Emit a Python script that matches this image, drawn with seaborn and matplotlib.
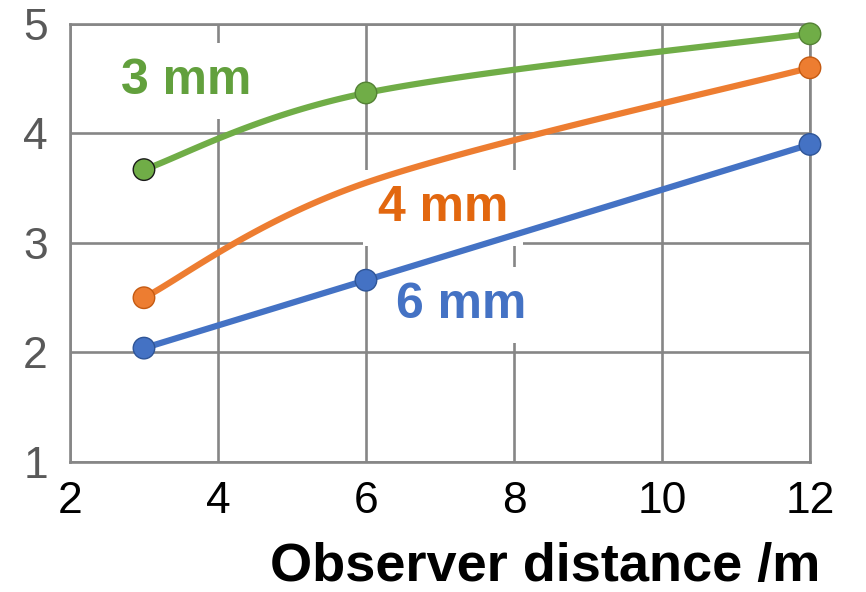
import matplotlib
matplotlib.use("Agg")
import matplotlib.pyplot as plt
import seaborn as sns
import numpy as np
import pandas as pd

# data
distance = [3, 6, 12]
vals_3mm = [3.67, 4.37, 4.91]
vals_4mm = [2.50, 3.55, 4.60]
vals_6mm = [2.04, 2.66, 3.90]
show_marker_4mm = [True, False, True]

x_ticks = [2, 4, 6, 8, 10, 12]
y_ticks = [1, 2, 3, 4, 5]

series_names = ["3 mm", "4 mm", "6 mm"]
line_colors = ["#70AD47", "#ED7D31", "#4472C4"]
edge_colors = [["#1a1a1a", "#548235", "#548235"],
               ["#C55A11", "#C55A11", "#C55A11"],
               ["#2F5597", "#2F5597", "#2F5597"]]
label_colors = ["#62A03D", "#E2670F", "#4472C4"]
label_pos = [(3.57, 4.48), (7.04, 3.32), (7.28, 2.43)]


def excel_smooth(xs, ys, n=60):
    # bezier smoothing like spreadsheet "smoothed line"
    p = np.column_stack([xs, ys]).astype(float)
    pts = np.vstack([p[0], p, p[-1]])
    out = []
    t = np.linspace(0, 1, n)[:, None]
    for i in range(1, len(pts) - 2):
        p0, p1 = pts[i], pts[i + 1]
        c1 = p0 + (pts[i + 1] - pts[i - 1]) / 6
        c2 = p1 - (pts[i + 2] - pts[i]) / 6
        seg = ((1 - t) ** 3) * p0 + 3 * ((1 - t) ** 2) * t * c1 + 3 * (1 - t) * t ** 2 * c2 + t ** 3 * p1
        out.append(seg if i == 1 else seg[1:])
    out = np.vstack(out)
    return out[:, 0], out[:, 1]


sns.set_theme(style="white")
plt.rcParams["font.family"] = ["Liberation Sans", "DejaVu Sans"]

fig = plt.figure(figsize=(8.66, 5.92), dpi=100)
ax = fig.add_axes([0.0808, 0.2196, 0.8545, 0.7399])

grid_col = "#868686"
for v in x_ticks:
    ax.axvline(v, color=grid_col, lw=1.9, zorder=0.5)
for v in y_ticks:
    ax.axhline(v, color=grid_col, lw=1.9, zorder=0.5)

all_vals = [vals_3mm, vals_4mm, vals_6mm]
markers = [[True] * 3, show_marker_4mm, [True] * 3]
for vals, lc, ec, mk in zip(all_vals, line_colors, edge_colors, markers):
    sx, sy = excel_smooth(distance, vals)
    ax.plot(sx, sy, color=lc, lw=4.5, solid_capstyle="round", zorder=3,
            clip_on=False)
    df = pd.DataFrame({"x": distance, "y": vals, "m": mk, "ec": ec})
    df = df[df["m"]]
    sns.scatterplot(data=df, x="x", y="y", ax=ax, s=240, color=lc,
                    edgecolor=list(df["ec"]), linewidth=1.0, zorder=4,
                    legend=False, clip_on=False)

for name, col, (tx, ty) in zip(series_names, label_colors, label_pos):
    ax.text(tx, ty, name, color=col, fontsize=36, fontweight="bold",
            ha="center", va="center", zorder=2,
            bbox=dict(boxstyle="square,pad=0.3", fc="white", ec="none"))

ax.set_xlim(2, 12)
ax.set_ylim(1, 5)
ax.set_xticks(x_ticks)
ax.set_yticks(y_ticks)
ax.tick_params(axis="x", length=0, pad=14, labelsize=32, labelcolor="black")
ax.tick_params(axis="y", length=0, pad=16, labelsize=32, labelcolor="#595959")
for s in ax.spines.values():
    s.set_color(grid_col)
    s.set_linewidth(1.9)
    s.set_zorder(0.6)

ax.set_xlabel("")
ax.set_ylabel("")
fig.text(0.947, 0.043, "Observer distance /m", fontsize=39, fontweight="bold",
         ha="right", va="center", color="black")

fig.savefig("out.png", dpi=100)
